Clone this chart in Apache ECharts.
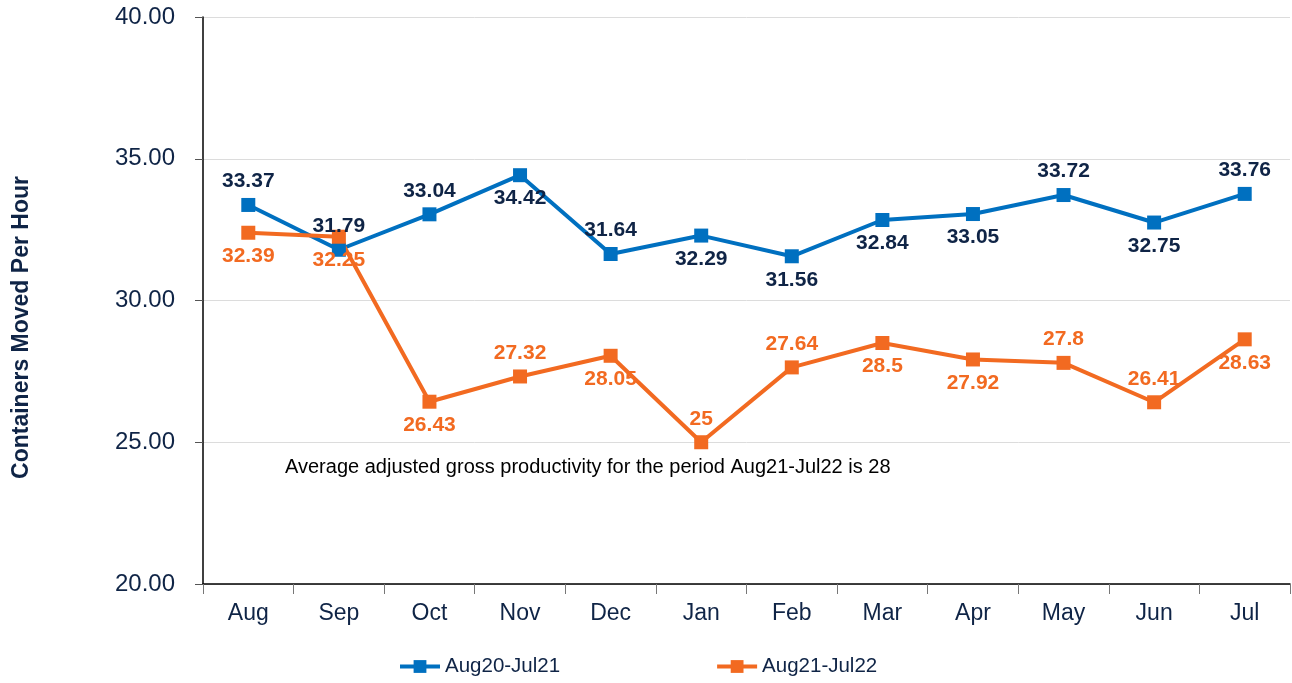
<!DOCTYPE html>
<html>
<head>
<meta charset="utf-8">
<script src="https://cdn.jsdelivr.net/npm/echarts@6/dist/echarts.min.js"></script>
<style>
	html, body { margin: 0; padding: 0; background: #fff; }
	#chart { width: 1292px; height: 683px; }
</style>
</head>
<body>
<div id="chart"></div>
<script>
const months = ['Aug', 'Sep', 'Oct', 'Nov', 'Dec', 'Jan', 'Feb', 'Mar', 'Apr', 'May', 'Jun', 'Jul'];
const prevYear = [33.37, 31.79, 33.04, 34.42, 31.64, 32.29, 31.56, 32.84, 33.05, 33.72, 32.75, 33.76];
const currYear = [32.39, 32.25, 26.43, 27.32, 28.05, 25, 27.64, 28.5, 27.92, 27.8, 26.41, 28.63];
// label side for each point
const prevLabelPos = ['top', 'top', 'top', 'bottom', 'top', 'bottom', 'bottom', 'bottom', 'bottom', 'top', 'bottom', 'top'];
const currLabelPos = ['bottom', 'bottom', 'bottom', 'top', 'bottom', 'top', 'top', 'bottom', 'bottom', 'top', 'top', 'bottom'];
const seriesNames = ['Aug20-Jul21', 'Aug21-Jul22'];
const note = 'Average adjusted gross productivity for the period Aug21-Jul22 is 28';

const navy = '#0f2446';
const blue = '#0070c0';
const orange = '#f26a21';
const font = 'Liberation Sans';

function buildData(values, positions) {
	return values.map((v, i) => ({
		value: v,
		label: { position: positions[i] }
	}));
}

function lineSeries(name, values, positions, color, labelColor) {
	return {
		name: name,
		type: 'line',
		data: buildData(values, positions),
		symbol: 'rect',
		symbolSize: 14,
		lineStyle: { color: color, width: 4 },
		itemStyle: { color: color },
		label: {
			show: true,
			color: labelColor,
			fontFamily: font,
			fontWeight: 'bold',
			fontSize: 21,
			distance: 6
		},
		animation: false
	};
}

const chart = echarts.init(document.getElementById('chart'));
chart.setOption({
	backgroundColor: '#fff',
	grid: { left: 203, right: 2, top: 17, bottom: 99, outerBoundsMode: 'none' },
	legend: {
		top: 651,
		left: 393,
		itemGap: 155,
		itemWidth: 40,
		itemHeight: 16,
		lineStyle: { width: 4 },
		textStyle: { color: navy, fontFamily: font, fontSize: 20.5 },
		data: seriesNames
	},
	xAxis: {
		type: 'category',
		data: months,
		axisLine: { lineStyle: { color: '#000', width: 1.5 } },
		axisTick: { show: true, length: 10, lineStyle: { color: '#777' } },
		axisLabel: { color: navy, fontFamily: font, fontSize: 23, margin: 18 }
	},
	yAxis: {
		type: 'value',
		min: 20,
		max: 40,
		interval: 5,
		name: 'Containers Moved Per Hour',
		nameLocation: 'middle',
		nameGap: 170,
		nameTextStyle: { color: navy, fontFamily: font, fontWeight: 'bold', fontSize: 23, padding: [0, 54, 0, 0] },
		axisLine: { show: true, lineStyle: { color: '#000', width: 1.5 } },
		axisTick: { show: true, length: 8, lineStyle: { color: '#555' } },
		axisLabel: {
			color: navy,
			fontFamily: font,
			fontSize: 24,
			margin: 28,
			formatter: v => v.toFixed(2)
		},
		splitLine: { lineStyle: { color: '#dcdcdc', width: 1 } }
	},
	graphic: [{
		type: 'text',
		left: 285,
		top: 457,
		style: { text: note, fill: '#000', font: '20px "Liberation Sans"' }
	}],
	series: [
		lineSeries(seriesNames[0], prevYear, prevLabelPos, blue, navy),
		lineSeries(seriesNames[1], currYear, currLabelPos, orange, orange)
	]
});
</script>
</body>
</html>
